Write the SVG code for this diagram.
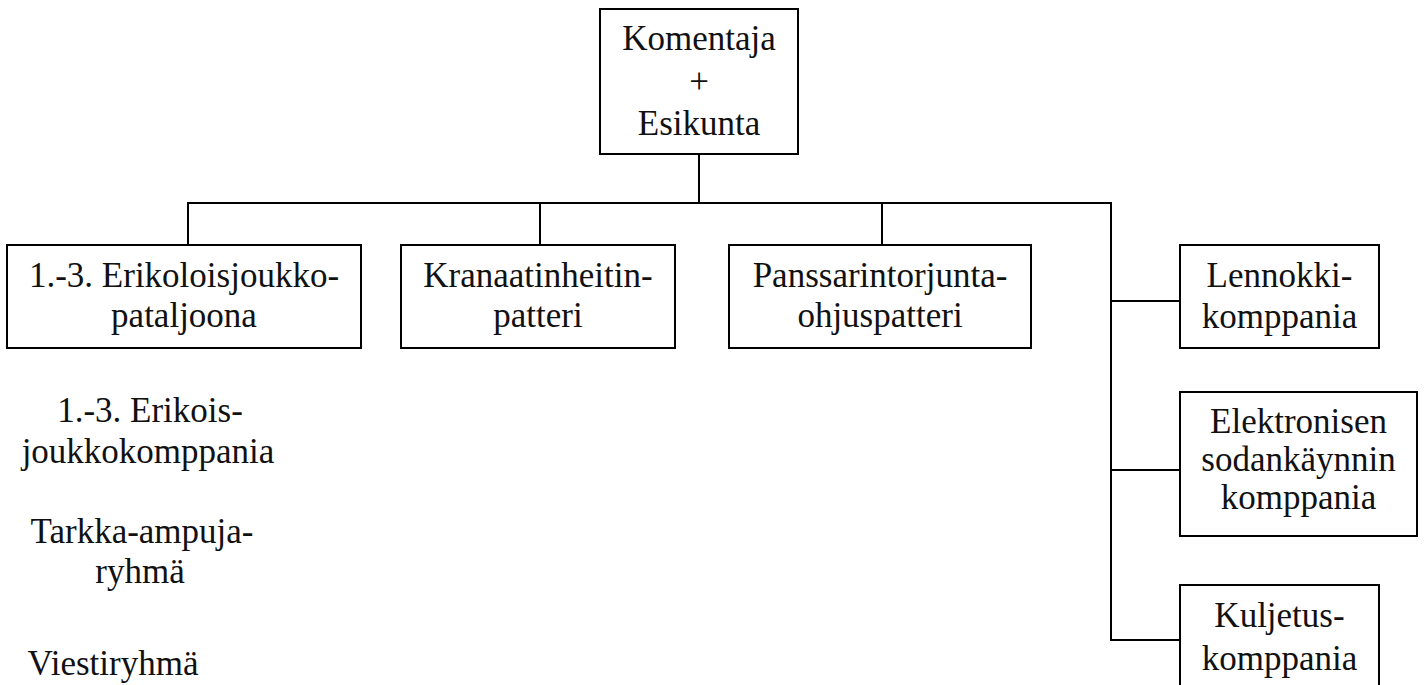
<svg xmlns="http://www.w3.org/2000/svg" width="1425" height="685" viewBox="0 0 1425 685">
<style>
.box{fill:#fff;stroke:#000;stroke-width:2}
.ln{fill:none;stroke:#000;stroke-width:2}
text{font-family:"Liberation Serif","DejaVu Serif",serif;font-size:35px;fill:#111;text-anchor:middle}
</style>
<rect width="1425" height="685" fill="#fff"/>
<g id="connectors">
<path class="ln" d="M699 154V203"/>
<path class="ln" d="M188 245V203H1111V640H1180"/>
<path class="ln" d="M540 203V245"/>
<path class="ln" d="M882 203V245"/>
<path class="ln" d="M1111 301H1180"/>
<path class="ln" d="M1111 470H1180"/>
</g>
<g id="n-komentaja">
<rect class="box" x="600" y="9" width="198" height="145"/>
<text x="699" y="50">Komentaja</text>
<text x="699" y="93">+</text>
<text x="699" y="135">Esikunta</text>
</g>
<g id="n-pataljoona">
<rect class="box" x="7" y="245" width="354" height="103"/>
<text x="184" y="287">1.-3. Erikoloisjoukko-</text>
<text x="184" y="327">pataljoona</text>
</g>
<g id="n-kranaatinheitin">
<rect class="box" x="401" y="245" width="274" height="103"/>
<text x="538" y="287">Kranaatinheitin-</text>
<text x="538" y="327">patteri</text>
</g>
<g id="n-panssarintorjunta">
<rect class="box" x="729" y="245" width="302" height="103"/>
<text x="880" y="287">Panssarintorjunta-</text>
<text x="880" y="327">ohjuspatteri</text>
</g>
<g id="n-lennokki">
<rect class="box" x="1180" y="245" width="199" height="103"/>
<text x="1279.5" y="287">Lennokki-</text>
<text x="1279.5" y="328">komppania</text>
</g>
<g id="n-elektroninen">
<rect class="box" x="1180" y="392" width="237" height="144"/>
<text x="1298.5" y="433">Elektronisen</text>
<text x="1298.5" y="471">sodankäynnin</text>
<text x="1298.5" y="509">komppania</text>
</g>
<g id="n-kuljetus">
<rect class="box" x="1180" y="585" width="199" height="110"/>
<text x="1279.5" y="627">Kuljetus-</text>
<text x="1279.5" y="670">komppania</text>
</g>
<g id="n-alayksikot">
<text x="150" y="422">1.-3. Erikois-</text>
<text x="148" y="463">joukkokomppania</text>
<text x="142" y="543">Tarkka-ampuja-</text>
<text x="140" y="583">ryhmä</text>
<text x="113" y="675">Viestiryhmä</text>
</g>
</svg>
